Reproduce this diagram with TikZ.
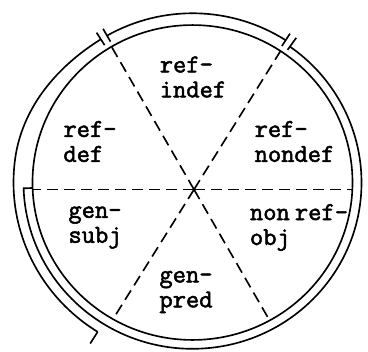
\documentclass[tikz,border=0pt]{standalone}
\usepackage{fontspec}
\newfontfamily\typefont[FakeBold=2]{Latin Modern Mono}
\begin{document}
\begin{tikzpicture}[x=0.3mm, y=0.3mm,
    ring/.style={line width=1.4pt},
    cut/.style={line width=1.4pt, dash pattern=on 3.3mm off 1.8mm},
    sector/.style={align=left, inner sep=0pt, font=\typefont\fontsize{22}{21.3}\selectfont}]
    \useasboundingbox (0,0) rectangle (368,351);
    \coordinate (O) at (192.5,168.5);
    \coordinate (P) at (194,161.5);
    % dividing lines
    \begin{scope}
      \clip[shift={(O)}, yscale=0.984] (0,0) circle[radius=160];
      \foreach \a in {0,58,120,180,238,300}
        \draw[cut] (P) -- +(\a:200);
    \end{scope}
    % circle and outer arcs
    \begin{scope}[shift={(O)}, yscale=0.984]
      \draw[ring] (0,0) circle[radius=160];
      \draw[ring] (57.2:172) arc[start angle=57.2, end angle=119.8, radius=172];
      \draw[ring] plot[domain=122.2:238, samples=80] (\x:{172+3.5*(1-cos(min(180,(\x-122.2)*3.6)))});
      \draw[ring] (238:179) -- (238:193);
      \draw[ring] (182:160) -- (182:169) arc[start angle=182, end angle=414.8, radius=169];
      \foreach \a in {54.8,57.2,119.8,122.2}
        \draw[ring] (\a:165) -- (\a:180);
    \end{scope}
    % sector texts
    \node[sector] (indef) at (193,274) {ref-\\indef};
    \node[sector] (def) at (90,209.5) {ref-\\def};
    \node[sector] (nondef) at (294.5,209.5) {ref-\\nondef};
    \node[sector] (subj) at (95,123.5) {gen-\\subj};
    \node[sector] (nonref) at (299,123.5) {non\hspace{0.2em}ref-\\obj};
    \node[sector] (pred) at (186,59) {gen-\\pred};
\end{tikzpicture}
\end{document}
